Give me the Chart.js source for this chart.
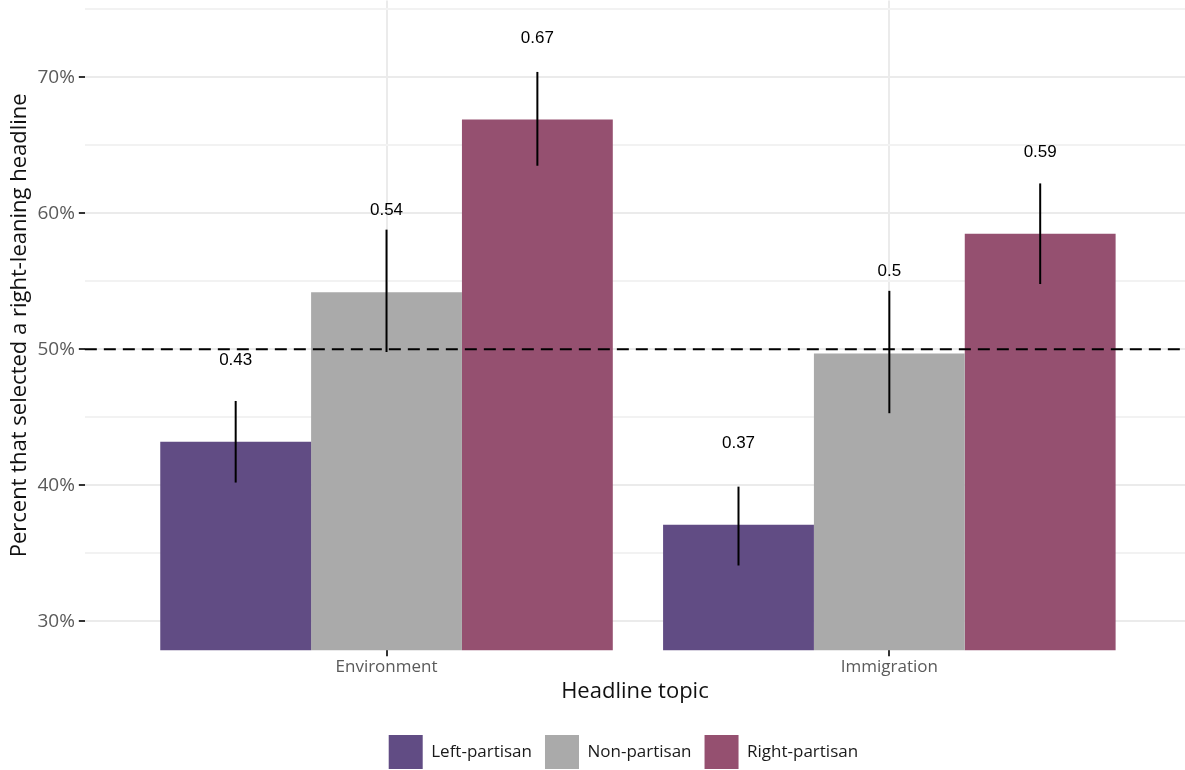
<!DOCTYPE html>
<html>
<head>
<meta charset="utf-8">
<script src="https://cdn.jsdelivr.net/npm/chart.js@4.4.1/dist/chart.umd.min.js"></script>
<style>
  html, body { margin: 0; padding: 0; background: #fff; overflow: hidden; }
  #wrap { width: 1185px; height: 794px; margin-top: -15px; }
</style>
</head>
<body>
<div id="wrap"><canvas id="headlineChart"></canvas></div>
<script>
// Share selecting a right-leaning headline, by reader group
const topics = ['Environment', 'Immigration'];
const groups = ['Left-partisan', 'Non-partisan', 'Right-partisan'];
const groupColors = ['#614c84', '#aaaaaa', '#955070'];

const leftVals = [43.2, 37.1];
const leftLow = [40.2, 34.1];
const leftHigh = [46.2, 39.9];

const nonVals = [54.2, 49.7];
const nonLow = [49.8, 45.3];
const nonHigh = [58.8, 54.3];

const rightVals = [66.9, 58.5];
const rightLow = [63.5, 54.8];
const rightHigh = [70.4, 62.2];

const yTicks = [30, 35, 40, 45, 50, 55, 60, 65, 70, 75];
const refLine = 50;
const labelNudge = 6;

const seriesVals = [leftVals, nonVals, rightVals];
const seriesLow = [leftLow, nonLow, rightLow];
const seriesHigh = [leftHigh, nonHigh, rightHigh];

const baseFont = '"Open Sans", sans-serif';

// error bars, value labels and the dashed 50% line
const extrasPlugin = {
    id: 'extras',
    afterLayout(chart) {
        // centre the legend under the panel rather than the whole canvas
        const shift = chart.chartArea.left / 2 - 15;
        chart.legend.left += shift;
        chart.legend.right += shift;
    },
    afterDatasetsDraw(chart) {
        const ctx = chart.ctx;
        const y = chart.scales.y;
        const area = chart.chartArea;
        ctx.save();

        // dashed reference line
        ctx.strokeStyle = '#000';
        ctx.lineWidth = 2;
        ctx.setLineDash([12, 7]);
        ctx.beginPath();
        ctx.moveTo(area.left, y.getPixelForValue(refLine));
        ctx.lineTo(area.right, y.getPixelForValue(refLine));
        ctx.stroke();
        ctx.setLineDash([]);

        chart.data.datasets.forEach((ds, di) => {
            const meta = chart.getDatasetMeta(di);
            meta.data.forEach((bar, i) => {
                const lo = y.getPixelForValue(seriesLow[di][i]);
                const hi = y.getPixelForValue(seriesHigh[di][i]);
                ctx.strokeStyle = '#000';
                ctx.lineWidth = 2;
                ctx.beginPath();
                ctx.moveTo(bar.x, lo);
                ctx.lineTo(bar.x, hi);
                ctx.stroke();

                const v = seriesVals[di][i];
                ctx.fillStyle = '#000';
                ctx.font = '17px "Liberation Sans", Arial, sans-serif';
                ctx.textAlign = 'center';
                ctx.textBaseline = 'middle';
                ctx.fillText(String(Math.round(v) / 100), bar.x, y.getPixelForValue(v + labelNudge));
            });
        });
        ctx.restore();
    }
};

const ctx = document.getElementById('headlineChart').getContext('2d');
const headlineChart = new Chart(ctx, {
    type: 'bar',
    data: {
        datasets: groups.map((g, gi) => ({
            label: g,
            data: seriesVals[gi].map((v, i) => ({ x: i + 1, y: v })),
            backgroundColor: groupColors[gi],
            borderWidth: 0,
            categoryPercentage: 0.9,
            barPercentage: 1.0,
        }))
    },
    options: {
        responsive: true,
        maintainAspectRatio: false,
        animation: false,
        layout: { padding: { top: 0, right: 0, left: 7, bottom: 0 } },
        plugins: {
            tooltip: { enabled: false },
            legend: {
                position: 'bottom',
                labels: {
                    boxWidth: 34,
                    boxHeight: 34,
                    padding: 13,
                    color: '#1a1a1a',
                    font: { family: baseFont, size: 17 },
                },
            },
        },
        scales: {
            x: {
                type: 'linear',
                offset: false,
                min: 0.4,
                max: 2.588,
                afterBuildTicks: (axis) => { axis.ticks = topics.map((t, i) => ({ value: i + 1 })); },
                ticks: {
                    callback: (v) => topics[v - 1] || '',
                    color: '#5a5a5a',
                    font: { family: baseFont, size: 17 },
                    padding: 1,
                },
                grid: {
                    offset: false,
                    color: '#ebebeb',
                    lineWidth: 2,
                    tickColor: '#333',
                    tickLength: 6,
                    tickWidth: 2,
                },
                border: { display: false },
                title: {
                    display: true,
                    text: 'Headline topic',
                    color: '#111',
                    font: { family: baseFont, size: 22 },
                    padding: { top: 0, bottom: 17 },
                },
            },
            y: {
                min: 27.87,
                max: 75.66,
                afterBuildTicks: (axis) => { axis.ticks = yTicks.map(v => ({ value: v })); },
                ticks: {
                    callback: (v) => (v % 10 === 0 ? v + '%' : ''),
                    color: '#5a5a5a',
                    font: { family: baseFont, size: 19 },
                    padding: 4,
                },
                grid: {
                    color: (c) => (c.tick && c.tick.value % 10 === 0 ? '#ebebeb' : '#f2f2f2'),
                    lineWidth: 2,
                    tickColor: (c) => (c.tick && c.tick.value % 10 === 0 ? '#333' : 'rgba(0,0,0,0)'),
                    tickLength: 6,
                    tickWidth: 2,
                },
                border: { display: false },
                title: {
                    display: true,
                    text: 'Percent that selected a right-leaning headline',
                    color: '#111',
                    font: { family: baseFont, size: 22 },
                    padding: { top: 0, bottom: 0 },
                },
            },
        },
    },
    plugins: [extrasPlugin],
});
</script>
</body>
</html>
